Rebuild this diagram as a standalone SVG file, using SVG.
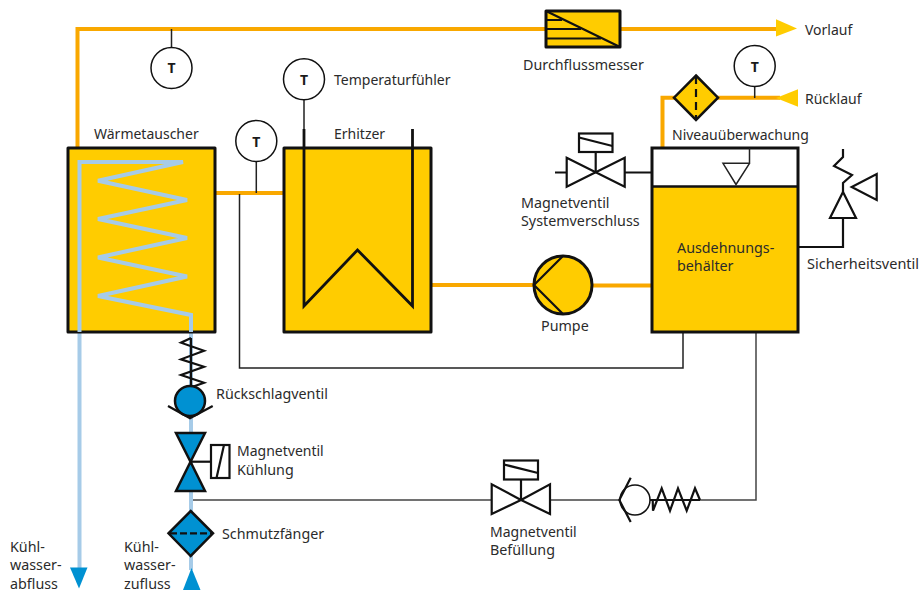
<svg xmlns="http://www.w3.org/2000/svg" width="920" height="592" viewBox="0 0 920 592">
<style>
text{font-family:"Noto Sans","Liberation Sans",sans-serif;font-size:14.3px;fill:#2b2b2b}
text.n{font-size:14px}
.t{font-weight:700;font-size:14px;text-anchor:middle;fill:#1a1a1a}
.tank{fill:#ffcc00;stroke:#111;stroke-width:3;stroke-linejoin:round}
.hot{fill:none;stroke:#f9a800;stroke-width:4}
.cold{fill:none;stroke:#a6cbe8;stroke-width:4}
.thin{fill:none;stroke:#222;stroke-width:1.5}
.grey{fill:none;stroke:#444;stroke-width:1.5}
.bk{fill:none;stroke:#111;stroke-width:2.2;stroke-linejoin:miter}
.bw{fill:#fff;stroke:#111;stroke-width:2.2;stroke-linejoin:miter}
.by{fill:#ffcc00;stroke:#111;stroke-width:2.5;stroke-linejoin:miter}
.bb{fill:#0091d2;stroke:#111;stroke-width:2.5;stroke-linejoin:miter}
.c{fill:#fff;stroke:#111;stroke-width:1.5}
</style>
<g id="connectors">
<path class="hot" d="M77.500 148V29H778"/>
<path class="hot" d="M215 193H284"/>
<path class="hot" d="M431 285H534M592 285.500H652"/>
<path class="hot" d="M662.500 148V97.700H780"/>
<path class="thin" d="M239.500 194V368H683V332"/>
<path class="grey" d="M193 500H619M650 500H756V332"/>
<path class="bk" d="M555 172.500H567M625 172.500H652"/>
<path class="bk" d="M798 247H843V218"/>
<path class="thin" d="M171.500 29V48M256.300 162V193M754.700 86V98M304 100V130"/>
<path class="cold" d="M79.500 568V163"/>
<path class="cold" d="M191 315V570"/>
<polygon fill="#ffcc00" points="776,19.300 776,36.500 797,28.500"/>
<polygon fill="#ffcc00" points="798,89.300 798,106.700 776,98"/>
<polygon fill="#0091d2" points="70,567.500 87.500,567.500 79,588.500"/>
<polygon fill="#0091d2" points="183,590 200.500,590 191.500,568"/>
</g>
<g id="waermetauscher">
<rect class="tank" x="68" y="148" width="147" height="184"/>
<path class="cold" stroke-linejoin="miter" d="M79.500 332V162H183L98 180.700L187 200L98 219L187 238L98 257.500L187 276.500L98 296L191 315V332"/>
<text class="n" x="94" y="139">Wärmetauscher</text>
</g>
<g id="erhitzer">
<rect class="tank" x="284" y="148" width="147" height="184"/>
<path fill="none" stroke="#111" stroke-width="2.800" d="M304 129V306L357.500 250L412.500 306V129"/>
<text class="n" x="334" y="139">Erhitzer</text>
</g>
<g id="behaelter">
<rect x="652" y="148" width="146" height="184" fill="#ffcc00"/>
<rect x="652" y="148" width="146" height="38" fill="#fff"/>
<rect x="652" y="148" width="146" height="184" fill="none" stroke="#111" stroke-width="3"/>
<path fill="none" stroke="#111" stroke-width="2.500" d="M652 186.500H798"/>
<path class="thin" d="M749.500 148V163.300H723L736 184.500L749.500 163.300"/>
<text x="677" y="253">Ausdehnungs-</text>
<text x="677" y="271">behälter</text>
</g>
<g id="durchflussmesser">
<rect class="tank" x="546" y="11" width="74" height="36"/>
<path class="bk" d="M546 20H562M546 29H581M546 38.500H601M546 11L620 47"/>
<text x="523" y="70">Durchflussmesser</text>
</g>
<g id="pumpe">
<circle cx="563" cy="285" r="29" fill="#ffcc00" stroke="#111" stroke-width="3"/>
<path class="bk" stroke-width="2.500" d="M563 256L534 285L563 314"/>
<text x="541" y="331">Pumpe</text>
</g>
<g id="niveau">
<polygon class="by" points="696,75.500 718,97.700 696,120 674,97.700"/>
<path class="bk" stroke-dasharray="8 5" d="M696 76V120"/>
<text class="n" x="672" y="140">Niveauüberwachung</text>
</g>
<g id="t1"><circle class="c" cx="171.500" cy="68" r="20.500"/><text class="t" x="171.500" y="73">T</text></g>
<g id="t2"><circle class="c" cx="304" cy="79.300" r="20.500"/><text class="t" x="304" y="84.500">T</text><text class="n" x="334" y="85">Temperaturfühler</text></g>
<g id="t3"><circle class="c" cx="256.300" cy="141" r="20.500"/><text class="t" x="256.300" y="146.500">T</text></g>
<g id="t4"><circle class="c" cx="754.700" cy="66" r="20.500"/><text class="t" x="754.700" y="71.500">T</text></g>
<g id="mv-system">
<polygon class="bw" points="566.700,157.700 566.700,186.700 595.700,172.300"/>
<polygon class="bw" points="624.700,157.700 624.700,186.700 595.700,172.300"/>
<path class="bk" d="M595.700 172V152"/>
<rect class="bw" x="579" y="133.500" width="33.500" height="18.500"/>
<path class="bk" d="M579 137.500L612.500 146"/>
<text x="521" y="208">Magnetventil</text>
<text x="521" y="226">Systemverschluss</text>
</g>
<g id="sicherheitsventil">
<polygon class="bw" points="830,218 856,218 843,192"/>
<path class="bk" d="M843 149V157L834 166L852 175L843 183V192"/>
<polygon class="bw" points="876.700,174 876.700,200 851.700,187"/>
<text x="807" y="269" font-size="14.5" style="font-size:14.500px">Sicherheitsventil</text>
</g>
<g id="rueckschlag-kuehl">
<path class="bk" d="M191 338V386M191 338L181 342.700L204 350.700L181 359.300L204 366.700L181 375L204 382.700L192 387"/>
<circle class="bb" cx="190" cy="401" r="15"/>
<path class="bk" stroke-width="2.500" d="M168 406L190 418.300L212.700 406"/>
<text x="216" y="399">Rückschlagventil</text>
</g>
<g id="mv-kuehlung">
<polygon class="bb" points="176,433 205,433 190.500,461.700"/>
<polygon class="bb" points="176,491 205,491 190.500,461.700"/>
<path class="bk" d="M190.500 461.700H211"/>
<rect class="bw" x="211" y="445" width="18.500" height="33"/>
<path class="bk" d="M216.500 478L224 445"/>
<text class="n" x="237" y="456">Magnetventil</text>
<text x="237" y="475">Kühlung</text>
</g>
<g id="schmutzfaenger">
<polygon class="bb" points="190.700,511 213,533.300 190.700,556 168.500,533.300"/>
<path class="bk" stroke-dasharray="7 3" d="M170 533.300H212"/>
<text x="222" y="539">Schmutzfänger</text>
</g>
<g id="mv-befuellung">
<polygon class="bw" points="491.700,484.300 491.700,514 521,500"/>
<polygon class="bw" points="550,484.300 550,514 521,500"/>
<path class="bk" d="M521 500V479"/>
<rect class="bw" x="504" y="460.500" width="34" height="19"/>
<path class="bk" d="M504 464.500L538 473"/>
<text class="n" x="490" y="537">Magnetventil</text>
<text x="490" y="555">Befüllung</text>
</g>
<g id="rueckschlag-bef">
<circle class="c" stroke-width="2.500" cx="635" cy="500" r="15"/>
<path class="bk" stroke-width="2.500" d="M630.700 477.700L619.300 500L630.700 522"/>
<path class="bk" d="M650 500H700M652.700 500L653 510.700L661.700 488.300L670 510.700L678 488.300L686.700 510.700L695 488.300L700 500"/>
</g>
<g id="labels">
<text class="n" x="805" y="35">Vorlauf</text>
<text class="n" x="805" y="104">Rücklauf</text>
<text x="10" y="552">Kühl-</text><text x="10" y="570">wasser-</text><text x="10" y="589">abfluss</text>
<text x="124" y="552">Kühl-</text><text x="124" y="570">wasser-</text><text x="124" y="589">zufluss</text>
</g>
</svg>
